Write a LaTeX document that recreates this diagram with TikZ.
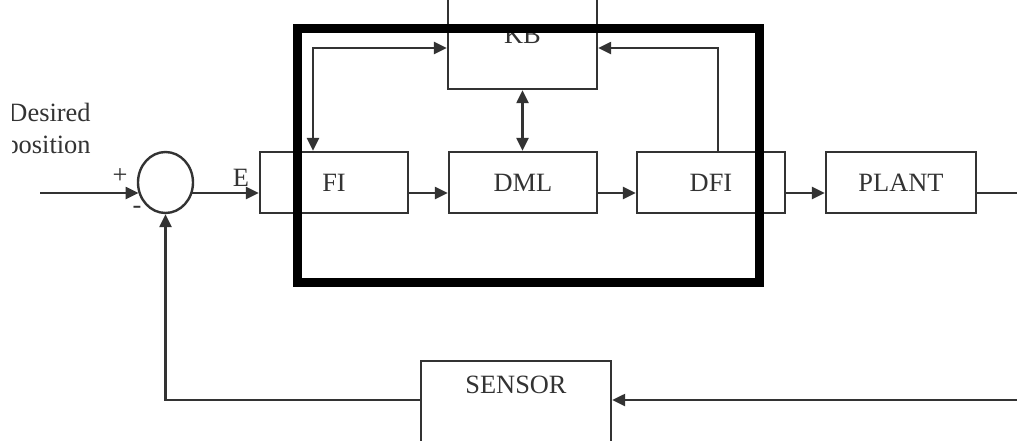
\documentclass[tikz,border=0pt]{standalone}
\usepackage{fontspec}
\setmainfont{Liberation Serif}
\usetikzlibrary{arrows.meta,shapes.geometric}
\definecolor{ink}{HTML}{333333}
\begin{document}
\begin{tikzpicture}[x=0.5pt,y=-0.5pt,
  txt/.style={text=ink, font=\fontsize{13.2}{15.5}\selectfont},
  blk/.style={txt, draw=ink, line width=1.2pt, rectangle, inner sep=0pt},
  lbl/.style={txt, inner sep=0pt},
  tip/.tip={Triangle[length=6.5pt,width=6pt]},
  arr/.style={draw=ink, line width=1.2pt, -tip},
  darr/.style={draw=ink, line width=1.2pt, tip-tip},
  ln/.style={draw=ink, line width=1.2pt},
  frame/.style={draw=black, line width=4.5pt}
]
\useasboundingbox (0,0) rectangle (1017,440);
\clip (0,0) rectangle (1017,440);
\fill[white] (0,0) rectangle (1017,440);

% blocks
\node[blk, minimum width=74pt, minimum height=30.5pt] (fi) at (334,182.5) {FI};
\node[blk, minimum width=74pt, minimum height=30.5pt] (dml) at (523,182.5) {DML};
\node[blk, minimum width=74pt, minimum height=30.5pt] (dfi) at (711,182.5) {DFI};
\node[blk, minimum width=75pt, minimum height=30.5pt] (plant) at (901,182.5) {PLANT};
\node[blk, minimum width=74.5pt, minimum height=54pt] (kb) at (522.5,35) {KB};
\node[blk, minimum width=95pt, minimum height=60pt, anchor=north] (sensor) at (516,360) {};
\node[lbl] (sensortxt) at (516,385) {SENSOR};
\node[draw=ink, line width=1.2pt, ellipse, minimum width=27.5pt, minimum height=30.5pt, inner sep=0pt] (sum) at (165.5,182.5) {};

% labels
\node[lbl] (plus) at (120,176) {+};
\node[lbl] (minus) at (137,210) {-};
\node[lbl] (e) at (241,178) {E};
\begin{scope}
  \clip (12,0) rectangle (300,300);
  \node[lbl, align=right, anchor=base east] (desired) at (91,153) {Desired\\[0.5pt]position};
\end{scope}

% helper coordinates
\coordinate (main) at (0,193);
\coordinate (in) at (40,193);
\coordinate (out) at (1017,193);
\coordinate (fbr) at (1017,400);
\coordinate (kl) at (313,48);
\coordinate (kr) at (718,48);

% forward path
\draw[arr] (in) -- (in -| sum.202);
\draw[arr] (sum.338 |- main) -- (fi.west |- main);
\draw[arr] (fi.east |- main) -- (dml.west |- main);
\draw[arr] (dml.east |- main) -- (dfi.west |- main);
\draw[arr] (dfi.east |- main) -- (plant.west |- main);
\draw[ln] (plant.east |- main) -- (out);

% feedback
\draw[arr] (fbr) -- (fbr -| sensor.east);
\draw[arr] ([yshift=-20pt]sensor.north west) -| (sum.south);

% KB links
\draw[darr] (kb.west |- kl) -| (fi.north -| kl);
\draw[darr] (kb.south) -- (kb.south |- dml.north);
\draw[arr] (dfi.north -| kr) |- (kb.east |- kr);

% thick frame
\draw[frame] (297.5,28) rectangle (759,282);
\end{tikzpicture}
\end{document}
